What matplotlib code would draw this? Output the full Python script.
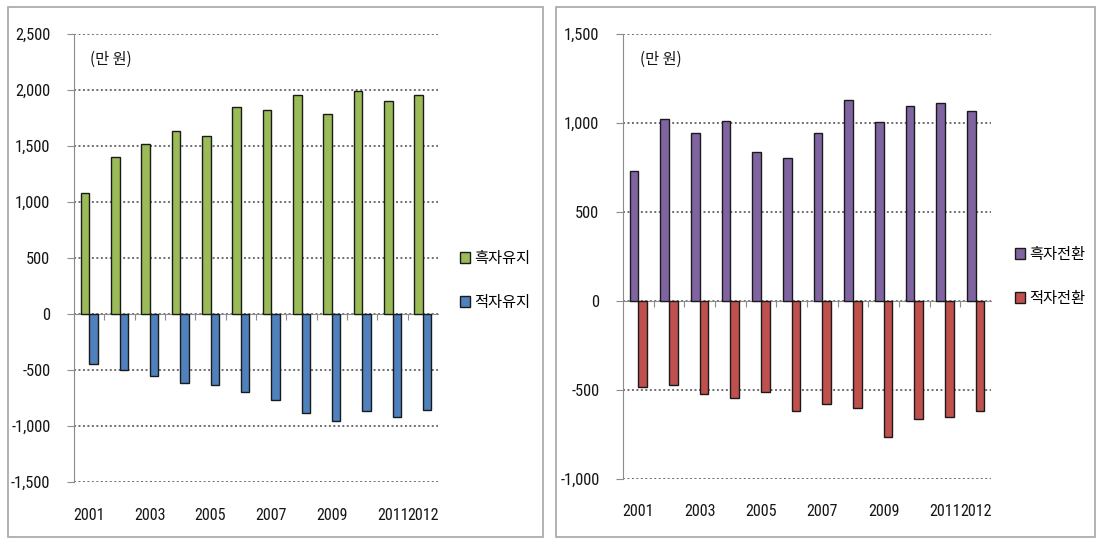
import matplotlib
matplotlib.use('Agg')
from matplotlib import pyplot as plt
from matplotlib import font_manager
from matplotlib.font_manager import FontProperties
from matplotlib.patches import Rectangle, Patch
import numpy as np

plt.rcParams['font.family'] = ['Noto Sans CJK KR', 'DejaVu Sans']

# narrow face for the digits, if one is installed (Liberation Sans Narrow / Roboto Condensed)
narrow_file = None
for key in ['liberationsansnarrow-regular', 'robotocondensed-regular']:
    for f in font_manager.fontManager.ttflist:
        if key in f.fname.lower().replace(' ', '').replace('_', ''):
            narrow_file = f.fname
            break
    if narrow_file:
        break


def num_font(size):
    if narrow_file:
        return FontProperties(fname=narrow_file, size=size + 1.5)
    return FontProperties(family=['Noto Sans CJK KR', 'DejaVu Sans'], size=size)


# data (만 원)
years = list(range(2001, 2013))
year_labels = ['2001', '2003', '2005', '2007', '2009', '2011', '2012']

surplus_keep = [1083, 1402, 1518, 1637, 1586, 1851, 1818, 1952, 1786, 1988, 1905, 1952]
deficit_keep = [-448, -503, -552, -617, -638, -699, -767, -883, -951, -868, -920, -853]

to_surplus = [733, 1023, 942, 1014, 839, 806, 942, 1130, 1004, 1097, 1110, 1068]
to_deficit = [-483, -473, -523, -547, -512, -618, -576, -599, -766, -663, -649, -618]

W, H = 1098, 540
fig = plt.figure(figsize=(W / 100, H / 100), dpi=100)


def px(x0, y0, x1, y1):
    # pixel box (top-left origin) -> figure fraction rect
    return [x0 / W, 1 - y1 / H, (x1 - x0) / W, (y1 - y0) / H]


def fmt(v):
    return f'{int(v):,}'


def draw_panel(box, axbox, pos_vals, neg_vals, pos_color, neg_color,
               pos_name, neg_name, ylim, step, legend_xy):
    # panel border
    bx = px(*box)
    fig.patches.append(Rectangle((bx[0], bx[1]), bx[2], bx[3], transform=fig.transFigure,
                                 fill=False, edgecolor='#a6a6a6', linewidth=1.2))
    ax = fig.add_axes(px(*axbox))
    x = np.arange(len(years))
    bw = 0.28
    ax.bar(x - bw / 2, pos_vals, bw, color=pos_color, edgecolor='#1a1a1a', linewidth=1.0, zorder=3)
    ax.bar(x + bw / 2, neg_vals, bw, color=neg_color, edgecolor='#1a1a1a', linewidth=1.0, zorder=3)

    ax.set_xlim(-0.5, len(years) - 0.5)
    ax.set_ylim(*ylim)
    ticks = np.arange(ylim[0], ylim[1] + 1, step)
    ax.set_yticks(ticks)
    ax.set_yticklabels([fmt(v) for v in ticks], fontproperties=num_font(10.3))
    ax.yaxis.grid(True, linestyle=(0, (1, 1.3)), color='#6e6e6e', linewidth=1.4, zorder=0)
    ax.tick_params(axis='y', length=5, color='#8c8c8c', labelcolor='#161616', pad=12)

    for s in ['top', 'right']:
        ax.spines[s].set_visible(False)
    ax.spines['left'].set_color('#8c8c8c')
    ax.spines['bottom'].set_position(('data', 0))
    ax.spines['bottom'].set_color('#8c8c8c')
    ax.set_xticks(np.arange(0.5, len(years) - 0.5, 1.0))
    ax.set_xticklabels([])
    ax.tick_params(axis='x', length=4, color='#8c8c8c', direction='out')

    for lab in year_labels:
        i = years.index(int(lab))
        ax.text(i, -0.074, lab, transform=ax.get_xaxis_transform(), ha='center', va='center',
                color='#161616', fontproperties=num_font(10))

    ax.text(0.045, 0.944, '(만 원)', transform=ax.transAxes, fontsize=11,
            ha='left', va='center', color='#161616')

    handles = [Patch(facecolor=pos_color, edgecolor='#1a1a1a', linewidth=1.0),
               Patch(facecolor=neg_color, edgecolor='#1a1a1a', linewidth=1.0)]
    fig.legend(handles, [pos_name, neg_name], loc='upper left',
               bbox_to_anchor=(legend_xy[0] / W, 1 - legend_xy[1] / H),
               frameon=False, fontsize=11, handlelength=0.65, handleheight=0.75,
               handletextpad=0.25, labelspacing=1.75, borderpad=0, borderaxespad=0)
    return ax


draw_panel((8, 7, 543, 537), (74, 34, 438, 482), surplus_keep, deficit_keep,
           '#9bbb59', '#4f81bd', '흑자유지', '적자유지', (-1500, 2500), 500, (460, 250))
draw_panel((556, 7, 1095, 537), (623, 34, 991, 479), to_surplus, to_deficit,
           '#8064a2', '#c0504d', '흑자전환', '적자전환', (-1000, 1500), 500, (1015, 246))

plt.savefig('out.png', dpi=100)
